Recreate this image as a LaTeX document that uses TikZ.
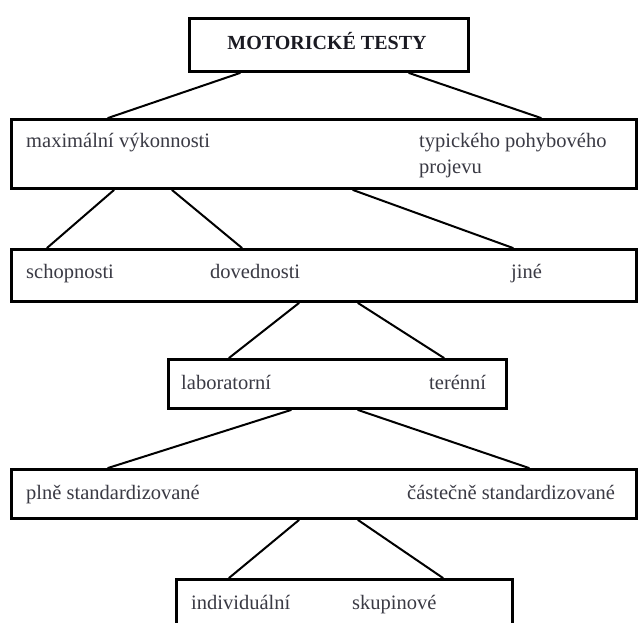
\documentclass[tikz,border=0pt]{standalone}
\usepackage{fontspec}
\setmainfont{Liberation Serif}
\definecolor{txt}{HTML}{3A3A44}
\definecolor{ttl}{HTML}{1A1A22}
\begin{document}
\begin{tikzpicture}[x=1pt,y=-1pt,
  box/.style={draw=black,line width=3pt,fill=white,inner sep=0pt,anchor=north west},
  lbl/.style={anchor=base west,inner sep=0pt,text=txt,font=\fontsize{20.5}{24}\selectfont},
  conn/.style={line width=2pt,line cap=round}]
\useasboundingbox (0,0) rectangle (638,623);
\clip (0,0) rectangle (638,623);
% boxes
\node[box,minimum width=279pt,minimum height=53pt] (b1) at (188,17) {};
\node[box,minimum width=625pt,minimum height=69pt] (b2) at (10,118) {};
\node[box,minimum width=625pt,minimum height=52pt] (b3) at (10,248) {};
\node[box,minimum width=338pt,minimum height=49pt] (b4) at (167,358) {};
\node[box,minimum width=625pt,minimum height=49pt] (b5) at (10,468) {};
\node[box,minimum width=336pt,minimum height=65pt] (b6) at (175,578) {};
% connectors
\draw[conn] ([xshift=52pt]b1.south west) -- ([xshift=98pt]b2.north west);
\draw[conn] ([xshift=221pt]b1.south west) -- ([xshift=531pt]b2.north west);
\draw[conn] ([xshift=104pt]b2.south west) -- ([xshift=37pt]b3.north west);
\draw[conn] ([xshift=162pt]b2.south west) -- ([xshift=232pt]b3.north west);
\draw[conn] ([xshift=343pt]b2.south west) -- ([xshift=503pt]b3.north west);
\draw[conn] ([xshift=289pt]b3.south west) -- ([xshift=62pt]b4.north west);
\draw[conn] ([xshift=348pt]b3.south west) -- ([xshift=277pt]b4.north west);
\draw[conn] ([xshift=124pt]b4.south west) -- ([xshift=98pt]b5.north west);
\draw[conn] ([xshift=191pt]b4.south west) -- ([xshift=519pt]b5.north west);
\draw[conn] ([xshift=289pt]b5.south west) -- ([xshift=54pt]b6.north west);
\draw[conn] ([xshift=348pt]b5.south west) -- ([xshift=268pt]b6.north west);
% texts
\node[anchor=base,inner sep=0pt,text=ttl,font=\fontsize{20}{24}\selectfont\bfseries] (t0) at (327,50) {MOTORICKÉ TESTY};
\node[lbl] (t1) at (26,148) {maximální výkonnosti};
\node[lbl] (t2) at (419,148) {typického pohybového};
\node[lbl] (t2b) at (419,174) {projevu};
\node[lbl] (t3) at (26,279) {schopnosti};
\node[lbl] (t4) at (210,279) {dovednosti};
\node[lbl] (t5) at (511,279) {jiné};
\node[lbl] (t6) at (181,389) {laboratorní};
\node[lbl] (t7) at (429,389) {terénní};
\node[lbl] (t8) at (26,499) {plně standardizované};
\node[lbl] (t9) at (407,499) {částečně standardizované};
\node[lbl] (t10) at (191,609) {individuální};
\node[lbl] (t11) at (352,609) {skupinové};
\end{tikzpicture}
\end{document}
